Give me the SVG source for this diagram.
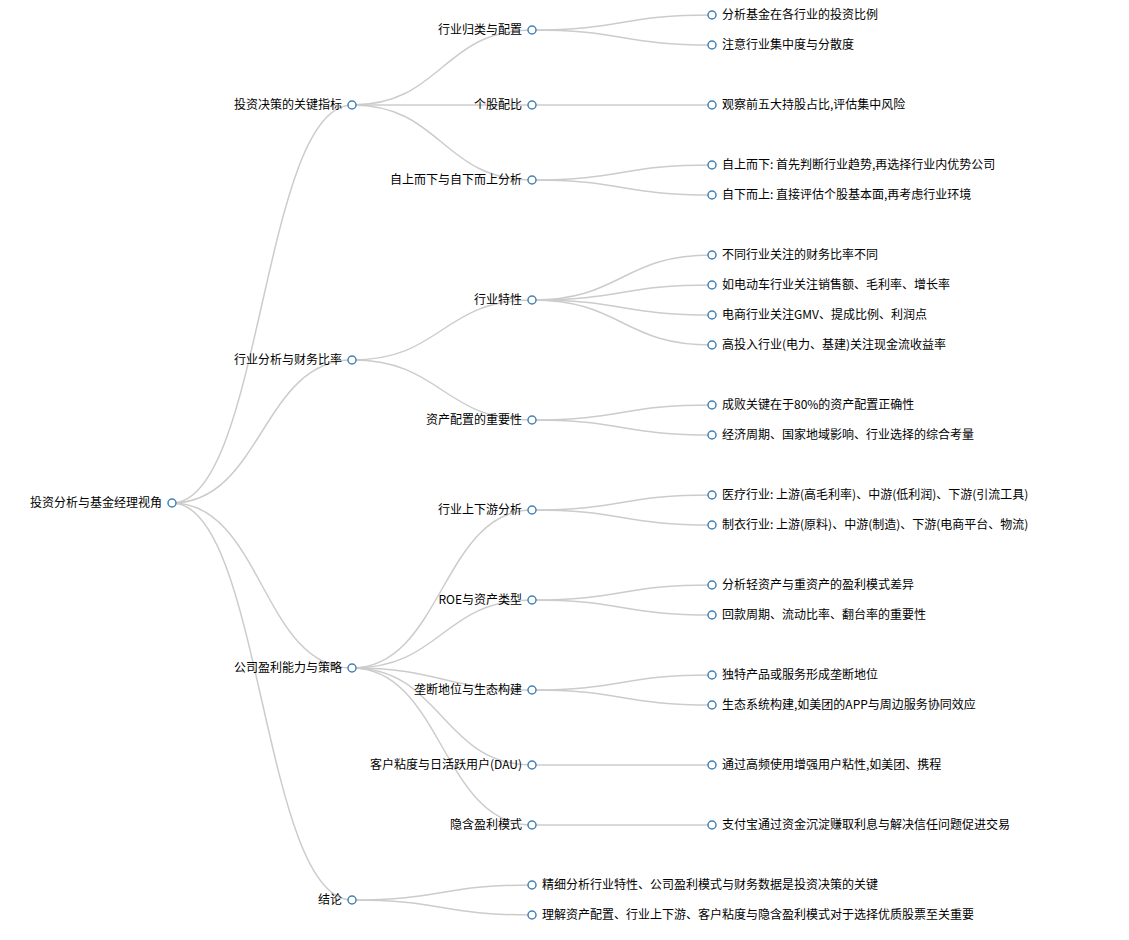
<svg xmlns="http://www.w3.org/2000/svg" width="1129" height="940" viewBox="0 0 1129 940">
<style>
.link{fill:none;stroke:#ccc;stroke-width:1.5}
.node circle{fill:#fff;stroke:steelblue;stroke-width:1.5}
.node text{font-family:"Noto Sans CJK SC","Liberation Sans",sans-serif;font-size:12px;fill:#000}
.l{text-anchor:end}
</style>
<rect width="1129" height="940" fill="#fff"/>
<g transform="translate(0,1)">
<g id="links">
<path class="link" d="M172,502C262,502 262,104 352,104"/>
<path class="link" d="M172,502C262,502 262,359 352,359"/>
<path class="link" d="M172,502C262,502 262,667 352,667"/>
<path class="link" d="M172,502C262,502 262,899 352,899"/>
<path class="link" d="M352,104C442,104 442,29 532,29"/>
<path class="link" d="M352,104C442,104 442,104 532,104"/>
<path class="link" d="M352,104C442,104 442,179 532,179"/>
<path class="link" d="M352,359C442,359 442,299 532,299"/>
<path class="link" d="M352,359C442,359 442,419 532,419"/>
<path class="link" d="M352,667C442,667 442,509 532,509"/>
<path class="link" d="M352,667C442,667 442,599 532,599"/>
<path class="link" d="M352,667C442,667 442,689 532,689"/>
<path class="link" d="M352,667C442,667 442,764 532,764"/>
<path class="link" d="M352,667C442,667 442,824 532,824"/>
<path class="link" d="M352,899C442,899 442,884 532,884"/>
<path class="link" d="M352,899C442,899 442,914 532,914"/>
<path class="link" d="M532,29C622,29 622,14 712,14"/>
<path class="link" d="M532,29C622,29 622,44 712,44"/>
<path class="link" d="M532,104C622,104 622,104 712,104"/>
<path class="link" d="M532,179C622,179 622,164 712,164"/>
<path class="link" d="M532,179C622,179 622,194 712,194"/>
<path class="link" d="M532,299C622,299 622,254 712,254"/>
<path class="link" d="M532,299C622,299 622,284 712,284"/>
<path class="link" d="M532,299C622,299 622,314 712,314"/>
<path class="link" d="M532,299C622,299 622,344 712,344"/>
<path class="link" d="M532,419C622,419 622,404 712,404"/>
<path class="link" d="M532,419C622,419 622,434 712,434"/>
<path class="link" d="M532,509C622,509 622,494 712,494"/>
<path class="link" d="M532,509C622,509 622,524 712,524"/>
<path class="link" d="M532,599C622,599 622,584 712,584"/>
<path class="link" d="M532,599C622,599 622,614 712,614"/>
<path class="link" d="M532,689C622,689 622,674 712,674"/>
<path class="link" d="M532,689C622,689 622,704 712,704"/>
<path class="link" d="M532,764C622,764 622,764 712,764"/>
<path class="link" d="M532,824C622,824 622,824 712,824"/>
</g>
<g id="root" class="node" transform="translate(172,502)"><circle r="4"/><text class="l" x="-10" dy=".35em">投资分析与基金经理视角</text></g>
<g id="n-a" class="node" transform="translate(352,104)"><circle r="4"/><text class="l" x="-10" dy=".35em">投资决策的关键指标</text></g>
<g id="n-b" class="node" transform="translate(352,359)"><circle r="4"/><text class="l" x="-10" dy=".35em">行业分析与财务比率</text></g>
<g id="n-c" class="node" transform="translate(352,667)"><circle r="4"/><text class="l" x="-10" dy=".35em">公司盈利能力与策略</text></g>
<g id="n-d" class="node" transform="translate(352,899)"><circle r="4"/><text class="l" x="-10" dy=".35em">结论</text></g>
<g id="n-a1" class="node" transform="translate(532,29)"><circle r="4"/><text class="l" x="-10" dy=".35em">行业归类与配置</text></g>
<g id="n-a2" class="node" transform="translate(532,104)"><circle r="4"/><text class="l" x="-10" dy=".35em">个股配比</text></g>
<g id="n-a3" class="node" transform="translate(532,179)"><circle r="4"/><text class="l" x="-10" dy=".35em">自上而下与自下而上分析</text></g>
<g id="n-b1" class="node" transform="translate(532,299)"><circle r="4"/><text class="l" x="-10" dy=".35em">行业特性</text></g>
<g id="n-b2" class="node" transform="translate(532,419)"><circle r="4"/><text class="l" x="-10" dy=".35em">资产配置的重要性</text></g>
<g id="n-c1" class="node" transform="translate(532,509)"><circle r="4"/><text class="l" x="-10" dy=".35em">行业上下游分析</text></g>
<g id="n-c2" class="node" transform="translate(532,599)"><circle r="4"/><text class="l" x="-10" dy=".35em">ROE与资产类型</text></g>
<g id="n-c3" class="node" transform="translate(532,689)"><circle r="4"/><text class="l" x="-10" dy=".35em">垄断地位与生态构建</text></g>
<g id="n-c4" class="node" transform="translate(532,764)"><circle r="4"/><text class="l" x="-10" dy=".35em">客户粘度与日活跃用户(DAU)</text></g>
<g id="n-c5" class="node" transform="translate(532,824)"><circle r="4"/><text class="l" x="-10" dy=".35em">隐含盈利模式</text></g>
<g id="n-d1" class="node" transform="translate(532,884)"><circle r="4"/><text x="10" dy=".35em">精细分析行业特性、公司盈利模式与财务数据是投资决策的关键</text></g>
<g id="n-d2" class="node" transform="translate(532,914)"><circle r="4"/><text x="10" dy=".35em">理解资产配置、行业上下游、客户粘度与隐含盈利模式对于选择优质股票至关重要</text></g>
<g id="n-a1a" class="node" transform="translate(712,14)"><circle r="4"/><text x="10" dy=".35em">分析基金在各行业的投资比例</text></g>
<g id="n-a1b" class="node" transform="translate(712,44)"><circle r="4"/><text x="10" dy=".35em">注意行业集中度与分散度</text></g>
<g id="n-a2a" class="node" transform="translate(712,104)"><circle r="4"/><text x="10" dy=".35em">观察前五大持股占比,评估集中风险</text></g>
<g id="n-a3a" class="node" transform="translate(712,164)"><circle r="4"/><text x="10" dy=".35em">自上而下: 首先判断行业趋势,再选择行业内优势公司</text></g>
<g id="n-a3b" class="node" transform="translate(712,194)"><circle r="4"/><text x="10" dy=".35em">自下而上: 直接评估个股基本面,再考虑行业环境</text></g>
<g id="n-b1a" class="node" transform="translate(712,254)"><circle r="4"/><text x="10" dy=".35em">不同行业关注的财务比率不同</text></g>
<g id="n-b1b" class="node" transform="translate(712,284)"><circle r="4"/><text x="10" dy=".35em">如电动车行业关注销售额、毛利率、增长率</text></g>
<g id="n-b1c" class="node" transform="translate(712,314)"><circle r="4"/><text x="10" dy=".35em">电商行业关注GMV、提成比例、利润点</text></g>
<g id="n-b1d" class="node" transform="translate(712,344)"><circle r="4"/><text x="10" dy=".35em">高投入行业(电力、基建)关注现金流收益率</text></g>
<g id="n-b2a" class="node" transform="translate(712,404)"><circle r="4"/><text x="10" dy=".35em">成败关键在于80%的资产配置正确性</text></g>
<g id="n-b2b" class="node" transform="translate(712,434)"><circle r="4"/><text x="10" dy=".35em">经济周期、国家地域影响、行业选择的综合考量</text></g>
<g id="n-c1a" class="node" transform="translate(712,494)"><circle r="4"/><text x="10" dy=".35em">医疗行业: 上游(高毛利率)、中游(低利润)、下游(引流工具)</text></g>
<g id="n-c1b" class="node" transform="translate(712,524)"><circle r="4"/><text x="10" dy=".35em">制衣行业: 上游(原料)、中游(制造)、下游(电商平台、物流)</text></g>
<g id="n-c2a" class="node" transform="translate(712,584)"><circle r="4"/><text x="10" dy=".35em">分析轻资产与重资产的盈利模式差异</text></g>
<g id="n-c2b" class="node" transform="translate(712,614)"><circle r="4"/><text x="10" dy=".35em">回款周期、流动比率、翻台率的重要性</text></g>
<g id="n-c3a" class="node" transform="translate(712,674)"><circle r="4"/><text x="10" dy=".35em">独特产品或服务形成垄断地位</text></g>
<g id="n-c3b" class="node" transform="translate(712,704)"><circle r="4"/><text x="10" dy=".35em">生态系统构建,如美团的APP与周边服务协同效应</text></g>
<g id="n-c4a" class="node" transform="translate(712,764)"><circle r="4"/><text x="10" dy=".35em">通过高频使用增强用户粘性,如美团、携程</text></g>
<g id="n-c5a" class="node" transform="translate(712,824)"><circle r="4"/><text x="10" dy=".35em">支付宝通过资金沉淀赚取利息与解决信任问题促进交易</text></g>
</g>
</svg>
